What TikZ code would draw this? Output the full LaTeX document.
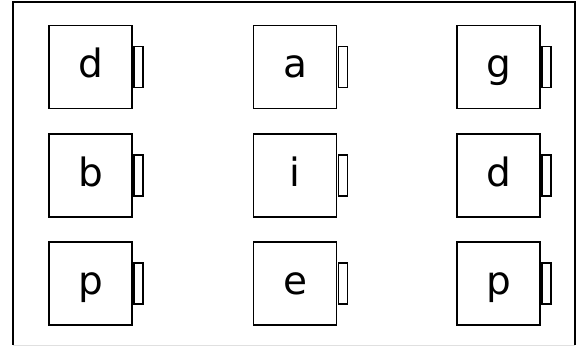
\documentclass[tikz,border=0pt]{standalone}
\usepackage{fontspec}
\setmainfont{DejaVu Sans}
\begin{document}
\begin{tikzpicture}[x=1pt,y=-1pt,
  letterbox/.style={draw,line width=1.8pt,minimum width=83pt,minimum height=83pt,inner sep=0pt,text height=30pt,text depth=8pt,font=\fontsize{39}{44}\selectfont},
  tabbox/.style={draw,line width=1.4pt,minimum width=9pt,minimum height=41pt,inner sep=0pt,anchor=west}]
\useasboundingbox (0,0) rectangle (582,347);
\draw[black!12,line width=1pt] (13,345.5) -- (575,345.5);
\draw[line width=1.8pt] (13,345) -- (13,2) -- (575,2) -- (575,345);
\foreach \name/\txt/\cx/\cy in {
  b11/d/90.5/67, b12/a/295/67, b13/g/498.5/67,
  b21/b/90.5/175.5, b22/i/295/175.5, b23/d/498.5/175.5,
  b31/p/90.5/283.5, b32/e/295/283.5, b33/p/498.5/283.5}{
  \node[letterbox] (\name) at (\cx,\cy) {\txt};
  \node[tabbox] (\name t) at ([xshift=0.5pt]\name.east) {};
}
\end{tikzpicture}
\end{document}
